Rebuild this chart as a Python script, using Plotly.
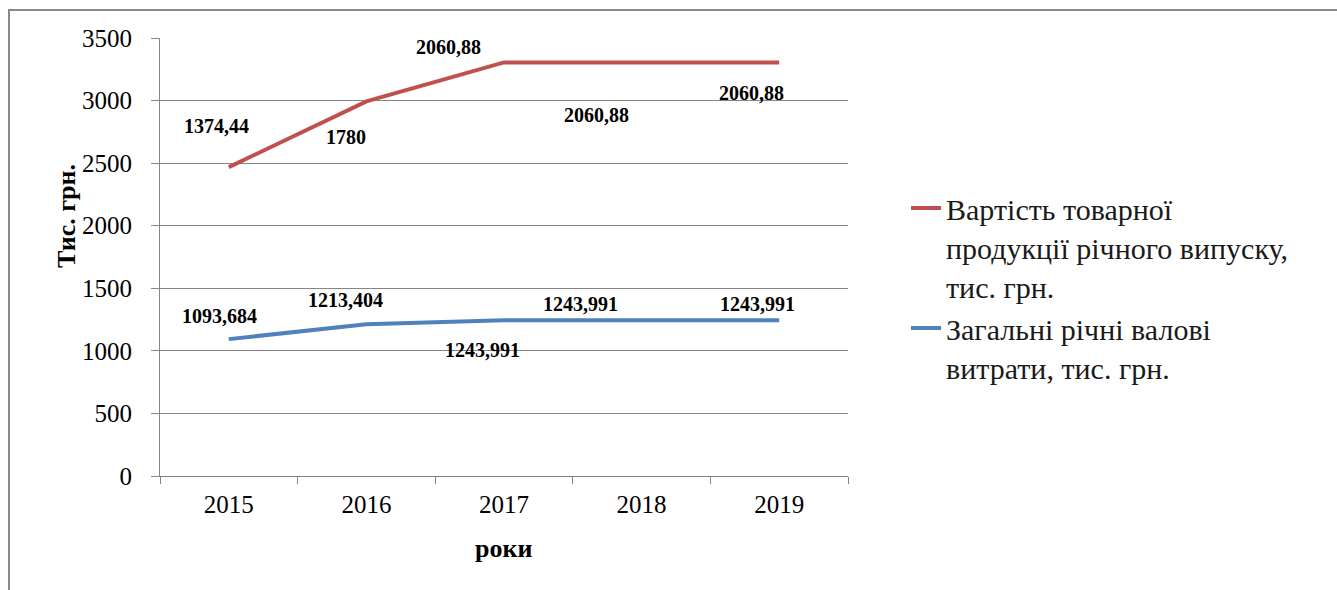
import plotly.graph_objects as go

# Data
years = ["2015", "2016", "2017", "2018", "2019"]
costs = [1093.684, 1213.404, 1243.991, 1243.991, 1243.991]          # Загальні річні валові витрати
output_value = [1374.44, 1780, 2060.88, 2060.88, 2060.88]          # Вартість товарної продукції
y_ticks = [0, 500, 1000, 1500, 2000, 2500, 3000, 3500]

name_output = "Вартість товарної<br>продукції річного випуску,<br>тис. грн."
name_costs = "Загальні річні валові<br>витрати, тис. грн."

RED = "#C0504D"
BLUE = "#4F81BD"
GRID = "#868686"
FONT = "Liberation Serif"

W, H = 1337, 590
L, R, T, B = 160, 489, 38, 114

fig = go.Figure()
# stacked lines (no fill): the value series sits on top of the costs series
fig.add_trace(go.Scatter(
    x=years, y=costs, name=name_costs, mode="lines", stackgroup="s", fill="none",
    line=dict(color=BLUE, width=4), legendrank=2))
fig.add_trace(go.Scatter(
    x=years, y=output_value, name=name_output, mode="lines", stackgroup="s", fill="none",
    line=dict(color=RED, width=4), legendrank=1))


def fmt(v):
    return str(v).replace(".", ",")


# data labels: (xshift, yshift) per point
costs_shift = [(-9, 23), (-21, 24), (-22, -30), (-61, 16), (-22, 16)]
value_shift = [(-12, 41), (-20, -36), (-56, 15), (-45, -53), (-28, -31)]

annotations = []
for i, yr in enumerate(years):
    top = costs[i] + output_value[i]
    dx, dy = value_shift[i]
    annotations.append(dict(x=i, y=top, text=f"<b>{fmt(output_value[i])}</b>", showarrow=False,
                            xshift=dx, yshift=dy, font=dict(family=FONT, size=20, color="#000")))
    dx, dy = costs_shift[i]
    annotations.append(dict(x=i, y=costs[i], text=f"<b>{fmt(costs[i])}</b>", showarrow=False,
                            xshift=dx, yshift=dy, font=dict(family=FONT, size=20, color="#000")))

pw = W - L - R
ph = H - T - B


def px_x(p):
    return (p - L) / pw


def px_y(p):
    return (H - B - p) / ph


# axis titles
annotations.append(dict(xref="paper", yref="paper", x=px_x(66), y=px_y(216), text="<b>Тис. грн.</b>",
                        xanchor="center", yanchor="middle",
                        textangle=-90, showarrow=False, font=dict(family=FONT, size=26, color="#000")))
annotations.append(dict(xref="paper", yref="paper", x=px_x(503), y=px_y(548), text="<b>роки</b>",
                        xanchor="center", yanchor="middle",
                        showarrow=False, font=dict(family=FONT, size=26, color="#000")))

# outer chart frame (left and top edges)
shapes = [
    dict(type="line", xref="paper", yref="paper", x0=px_x(9), y0=px_y(H + 5), x1=px_x(9), y1=px_y(10),
         line=dict(color="#8a8a8a", width=2)),
    dict(type="line", xref="paper", yref="paper", x0=px_x(8), y0=px_y(10), x1=px_x(W + 5), y1=px_y(10),
         line=dict(color="#8a8a8a", width=2)),
]

fig.update_layout(
    width=W, height=H,
    margin=dict(l=L, r=R, t=T, b=B),
    paper_bgcolor="white", plot_bgcolor="white",
    font=dict(family=FONT, color="#000"),
    annotations=annotations,
    shapes=shapes,
    showlegend=True,
    legend=dict(
        x=px_x(906), y=px_y(182), xanchor="left", yanchor="top",
        font=dict(family=FONT, size=30, color="#1a1a1a"),
        valign="top", traceorder="normal", bgcolor="rgba(0,0,0,0)",
    ),
    xaxis=dict(
        type="category", range=[-0.5, 4.5], showgrid=False,
        showline=True, linecolor=GRID, linewidth=1,
        ticks="outside", tickson="boundaries", ticklen=7, tickcolor=GRID,
        ticklabelstandoff=6,
        tickfont=dict(family=FONT, size=25, color="#000"),
        fixedrange=True,
    ),
    yaxis=dict(
        range=[0, 3500], tickvals=y_ticks, showgrid=True, gridcolor=GRID, gridwidth=1,
        showline=True, linecolor=GRID, linewidth=1,
        ticks="outside", ticklen=8, tickcolor=GRID, ticklabelstandoff=14,
        tickfont=dict(family=FONT, size=25, color="#000"),
        zeroline=False, fixedrange=True,
    ),
)

fig.write_html("out.html")
